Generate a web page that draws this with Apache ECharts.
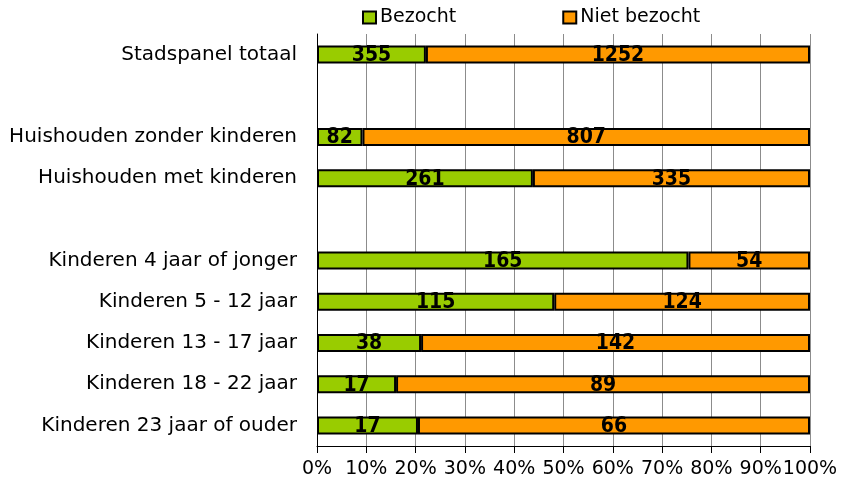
<!DOCTYPE html>
<html><head><meta charset="utf-8">
<script src="https://cdn.jsdelivr.net/npm/echarts@6/dist/echarts.min.js"></script>
<style>html,body{margin:0;padding:0;background:#fff}#c{width:842px;height:483px}</style>
</head><body><div id="c"></div>
<script>
const categories = ['Stadspanel totaal','','Huishouden zonder kinderen','Huishouden met kinderen','','Kinderen 4 jaar of jonger','Kinderen 5 - 12 jaar','Kinderen 13 - 17 jaar','Kinderen 18 - 22 jaar','Kinderen 23 jaar of ouder'];
const bezocht = [355,null,82,261,null,165,115,38,17,17];
const nietBezocht = [1252,null,807,335,null,54,124,142,89,66];
const xTicks = [0,10,20,30,40,50,60,70,80,90,100];

const pct = (a,i) => { const t = (bezocht[i]||0)+(nietBezocht[i]||0); return a[i]==null ? null : {value: a[i]/t*100, count: a[i]}; };
const bzData = bezocht.map((v,i)=>pct(bezocht,i));
const nbData = nietBezocht.map((v,i)=>pct(nietBezocht,i));
const font = 'DejaVu Sans';
const labelCfg = {show:true, position:'inside', color:'#000', fontWeight:'bold', fontSize:21, fontFamily:'DejaVu Sans Condensed, Liberation Sans Narrow, Liberation Sans', formatter:p=>p.data.count, offset:[0,1]};

const chart = echarts.init(document.getElementById('c'), null, {renderer:'canvas'});
chart.setOption({
  animation:false,
  textStyle:{fontFamily:font},
  legend:{top:3, left:357, itemWidth:13, itemHeight:12, itemGap:106, icon:'rect',
    textStyle:{fontSize:19, color:'#000', fontFamily:font, padding:[0,0,0,-1]},
    itemStyle:{borderColor:'#000', borderWidth:2},
    data:['Bezocht','Niet bezocht']},
  grid:{left:317, right:32, top:34, bottom:37, containLabel:false},
  xAxis:{type:'value', min:0, max:100, interval:10,
    axisLine:{show:true, lineStyle:{color:'#000', width:1}},
    axisTick:{show:true, length:7, lineStyle:{color:'#000'}},
    axisLabel:{formatter:'{value}%', fontSize:19, color:'#000', margin:14, fontFamily:font},
    splitLine:{show:true, lineStyle:{color:'#8c8c8c', width:1}}},
  yAxis:{type:'category', inverse:true, data:categories,
    axisLine:{show:true, lineStyle:{color:'#000', width:1}},
    axisTick:{show:false},
    axisLabel:{fontSize:20, color:'#000', margin:20, fontFamily:font}},
  series:[
    {name:'Bezocht', type:'bar', stack:'a', barWidth:18, data:bzData,
     itemStyle:{color:'#99cc00', borderColor:'#000', borderWidth:2}, label:labelCfg},
    {name:'Niet bezocht', type:'bar', stack:'a', barWidth:18, data:nbData,
     itemStyle:{color:'#ff9900', borderColor:'#000', borderWidth:2}, label:labelCfg}
  ]
});
</script></body></html>
